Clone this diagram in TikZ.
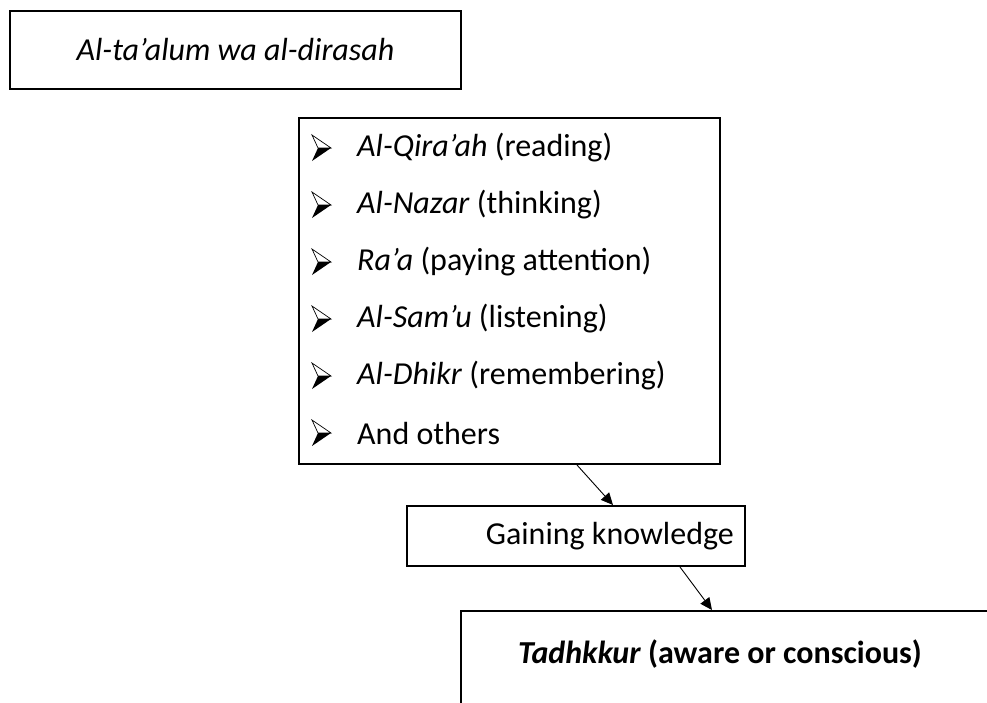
\documentclass[tikz,border=0pt]{standalone}
\usepackage{fontspec}
\setmainfont{Carlito}
\usetikzlibrary{arrows.meta}
\begin{document}
\begin{tikzpicture}[x=1pt,y=-1pt,font=\fontsize{32}{38}\selectfont,
  box/.style={draw,line width=2pt,inner sep=0pt},
  arr/.style={-{Triangle[length=12pt,width=11pt]},line width=0.9pt},
  arrowbullet/.pic={
    \draw[line width=0.7pt,fill=white] (10,0) -- (-9,-13) -- (-3,0) -- cycle;
    \fill (10,0) -- (-3,0) -- (-9,13) -- cycle;
  }]
  \useasboundingbox (0,0) rectangle (987,702);
  \node[box,minimum width=451,minimum height=78] (title) at (235.5,50) {\itshape Al-ta’alum wa al-dirasah};
  \node[box,minimum width=421,minimum height=346] (list) at (509.5,291) {};
  \foreach \txt [count=\i] in {{\textit{Al-Qira’ah} (reading)},{\textit{Al-Nazar} (thinking)},{\textit{Ra’a} (paying attention)},{\textit{Al-Sam’u} (listening)},{\textit{Al-Dhikr} (remembering)},{And others}} {
    \pic at (321,91+57*\i) {arrowbullet};
    \node[anchor=west,inner sep=0pt] (t\i) at (357,91+57*\i) {\txt};
  }
  \node[box,minimum width=338,minimum height=60] (gain) at (576,536) {};
  \node[anchor=east,inner sep=0pt] (gaintxt) at ([xshift=-12]gain.east) {Gaining knowledge};
  \node[box,minimum width=600,minimum height=200,anchor=north west] (tadh) at (460,610) {};
  \node[font=\bfseries\fontsize{32}{38}\selectfont] (tadhtxt) at (720,654) {\textit{Tadhkkur} (aware or conscious)};
  \draw[arr] ([xshift=67.5]list.south) -- ([xshift=37]gain.north);
  \draw[arr] ([xshift=104]gain.south) -- ([xshift=252]tadh.north west);
\end{tikzpicture}
\end{document}
